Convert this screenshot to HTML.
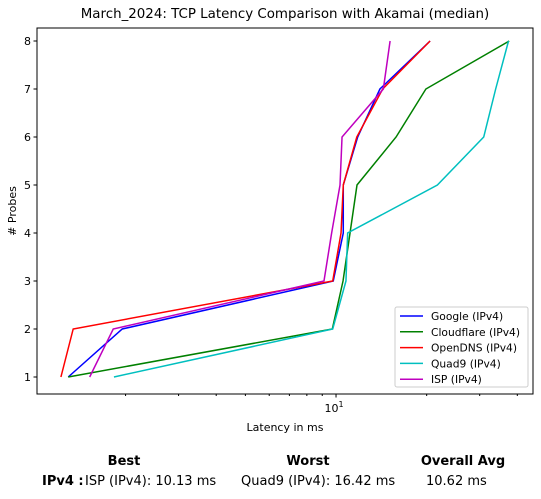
<!DOCTYPE html>
<html><head><meta charset="utf-8"><style>
body{margin:0;background:#fff;font-family:"Liberation Sans","DejaVu Sans",sans-serif;}
svg text{font-family:"DejaVu Sans","Liberation Sans",sans-serif;}
</style></head><body>
<svg width="541" height="494" viewBox="0 0 541 494">
<g id="plot"></g>
<text x="285" y="18" font-size="13.4" text-anchor="middle">March_2024: TCP Latency Comparison with Akamai (median)</text>
<text x="285" y="431" font-size="11" text-anchor="middle">Latency in ms</text>
<text x="16" y="211" font-size="11" text-anchor="middle" transform="rotate(-90 16 211)"># Probes</text>
<text x="124" y="465" font-size="13" font-weight="bold" text-anchor="middle">Best</text>
<text x="308" y="465" font-size="13" font-weight="bold" text-anchor="middle">Worst</text>
<text x="463" y="465" font-size="13" font-weight="bold" text-anchor="middle">Overall Avg</text>
<text x="42" y="485" font-size="13" font-weight="bold">IPv4 :</text>
<text x="85" y="485" font-size="13">ISP (IPv4): 10.13 ms</text>
<text x="241" y="485" font-size="13">Quad9 (IPv4): 16.42 ms</text>
<text x="426" y="485" font-size="13">10.62 ms</text>
</svg>
<script>
const probes=[1,2,3,4,5,6,7,8];
const seriesNames=["Google (IPv4)","Cloudflare (IPv4)","OpenDNS (IPv4)","Quad9 (IPv4)","ISP (IPv4)"];
const seriesColors=["#0000ff","#008000","#ff0000","#00bfbf","#bf00bf"];
const google=[1.29,1.95,9.79,10.57,10.57,11.80,13.99,20.53];
const cloudflare=[1.29,9.72,10.55,11.13,11.74,15.83,19.88,37.6];
const opendns=[1.22,1.34,9.75,10.39,10.57,11.72,14.29,20.53];
const quad9=[1.83,9.75,10.79,10.93,21.71,30.94,33.9,37.4];
const isp=[1.52,1.82,9.12,9.67,10.31,10.47,14.36,15.12];
const yTicks=[1,2,3,4,5,6,7,8];
const allSeries=[google,cloudflare,opendns,quad9,isp];
const L=37,R=533,T=28,B=394;
const xmin=1.016,xmax=45.1;
const xs=v=>L+(Math.log10(v)-Math.log10(xmin))/(Math.log10(xmax)-Math.log10(xmin))*(R-L);
const ys=v=>377-(v-1)*48;
const NS="http://www.w3.org/2000/svg";
const g=document.getElementById('plot');
function mk(t,a,p){const e=document.createElementNS(NS,t);for(const k in a)e.setAttribute(k,a[k]);(p||g).appendChild(e);return e;}
allSeries.forEach((s,i)=>{
 const p=mk('polyline',{points:s.map((v,j)=>xs(v)+','+ys(probes[j])).join(' '),fill:'none',stroke:seriesColors[i],'stroke-width':1.5});
 
 
});
const fr=mk('rect',{x:L,y:T,width:R-L,height:B-T,fill:'none',stroke:'#000','stroke-width':1});


yTicks.forEach(t=>{
 mk('line',{x1:L-3.5,x2:L,y1:ys(t),y2:ys(t),stroke:'#000'});
 const tx=mk('text',{x:L-6,y:ys(t)+4,'font-size':11,'text-anchor':'end'});tx.textContent=t;
 
 
});
[2,3,4,5,6,7,8,9,20,30,40].forEach(v=>mk('line',{x1:xs(v),x2:xs(v),y1:B,y2:B+2,stroke:'#000'}));
mk('line',{x1:xs(10),x2:xs(10),y1:B,y2:B+3.5,stroke:'#000'});
const xt=mk('text',{x:xs(10)-2,y:B+18,'font-size':11,'text-anchor':'middle'});
xt.innerHTML='10<tspan dy="-5" font-size="8">1</tspan>';


const lg=mk('g',{});


mk('rect',{x:395,y:307,width:133,height:80,rx:2,fill:'#fff',stroke:'#ccc'},lg);
seriesNames.forEach((n,i)=>{
 const y=316+i*15.8;
 mk('line',{x1:400,x2:423,y1:y,y2:y,stroke:seriesColors[i],'stroke-width':1.5},lg);
 const t=mk('text',{x:431,y:y+4,'font-size':10.7},lg);t.textContent=n;
 
 
});
</script>
</body></html>
